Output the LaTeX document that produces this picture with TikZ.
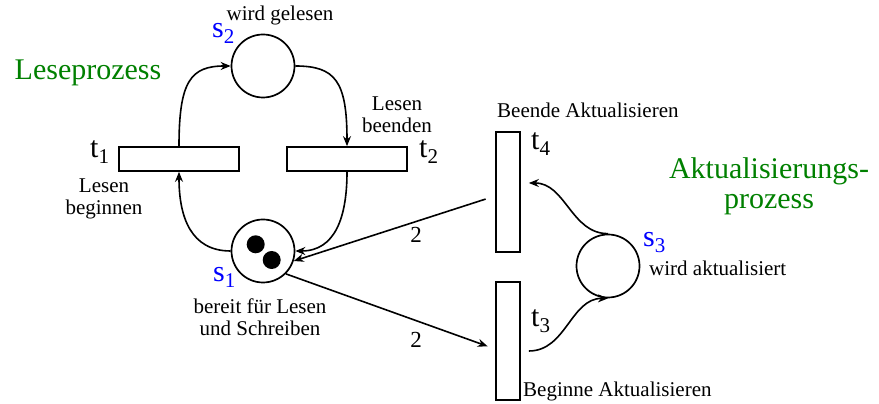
\documentclass[tikz,border=0pt]{standalone}
\usepackage{fontspec}
\setmainfont{Liberation Serif}
\usepackage{tikz}
\usetikzlibrary{arrows.meta}
\usepackage{xcolor}
\definecolor{procgreen}{RGB}{0,128,0}

\begin{document}
\begin{tikzpicture}[x=1pt, y=1pt,
  place/.style={draw, circle, line width=1.7pt, minimum size=63pt, inner sep=0pt},
  token/.style={fill, circle, minimum size=18pt, inner sep=0pt},
  trans/.style={draw, rectangle, line width=1.7pt, inner sep=0pt},
  arc/.style={-{Stealth[length=10pt, width=8pt]}, line width=1.6pt},
  small/.style={font=\fontsize{21}{22}\selectfont, inner sep=0pt},
  big/.style={font=\fontsize{30}{30}\selectfont, inner sep=0pt}]
  \useasboundingbox (0,0) rectangle (879,404);
  \node[place] (s2) at (263,338) {};
  \node[place] (s1) at (263,153) {};
  \node[place] (s3) at (608,138) {};
  \node[token] (m1) at (255.7,159.7) {};
  \node[token] (m2) at (271.7,144) {};
  \node[trans, minimum width=120pt, minimum height=24pt] (t1) at (179,245) {};
  \node[trans, minimum width=120pt, minimum height=24pt] (t2) at (347,245) {};
  \node[trans, minimum width=24pt, minimum height=120pt] (t4) at (508,212) {};
  \node[trans, minimum width=24pt, minimum height=118pt] (t3) at (508,63) {};
  \draw[arc] (t1.north) to[out=90, in=180, out distance=65pt, in distance=40pt] (s2.west);
  \draw[arc] (s2.east) to[out=0, in=90, out distance=40pt, in distance=65pt] (t2.north);
  \draw[arc] (s1.west) to[out=180, in=-90, out distance=40pt, in distance=45pt] (t1.south);
  \draw[arc] (t2.south) to[out=-90, in=0, out distance=45pt, in distance=40pt] (s1.east);
  \draw[arc, shorten <=10pt] ([yshift=-4pt]t4.west) -- (s1.-18);
  \draw[arc, shorten >=8pt] (s1.-45) -- ([yshift=-8pt]t3.west);
  \draw[arc] (s3.north) to[out=180, in=0] ([xshift=8pt, yshift=9pt]t4.east);
  \draw[arc] ([xshift=8pt, yshift=-10pt]t3.east) to[out=0, in=180] (s3.south);
  \node[font=\fontsize{23}{23}\selectfont, anchor=base, inner sep=0pt] (w1) at (416,161) {2};
  \node[font=\fontsize{23}{23}\selectfont, anchor=base, inner sep=0pt] (w2) at (416,56) {2};
  \node[big, anchor=base west, text=blue] (n2) at (212,366) {s\textsubscript{2}};
  \node[big, anchor=base west, text=blue] (n1) at (213,122) {s\textsubscript{1}};
  \node[big, anchor=base west, text=blue] (n3) at (643,157) {s\textsubscript{3}};
  \node[big, anchor=base west] (k1) at (90,246) {t\textsubscript{1}};
  \node[big, anchor=base west] (k2) at (419,246) {t\textsubscript{2}};
  \node[big, anchor=base west] (k4) at (531,254) {t\textsubscript{4}};
  \node[big, anchor=base west] (k3) at (531,77) {t\textsubscript{3}};
  \node[small, anchor=base] (l2) at (280,383) {wird gelesen};
  \node[small, align=center] (l1) at (104,205) {Lesen\\beginnen};
  \node[small, align=center] (l5) at (397,289) {Lesen\\beenden};
  \node[small, align=center] (l0) at (260,87) {bereit für Lesen\\und Schreiben};
  \node[small, anchor=base west] (l4) at (497,286) {Beende Aktualisieren};
  \node[small, anchor=base west] (l3) at (523,7) {Beginne Aktualisieren};
  \node[small, anchor=base west] (l6) at (649,128) {wird aktualisiert};
  \node[big, anchor=base, text=procgreen] (p1) at (88,324) {Leseprozess};
  \node[big, align=center, text=procgreen] (p2) at (769,218) {Aktualisierungs-\\prozess};
\end{tikzpicture}
\end{document}
